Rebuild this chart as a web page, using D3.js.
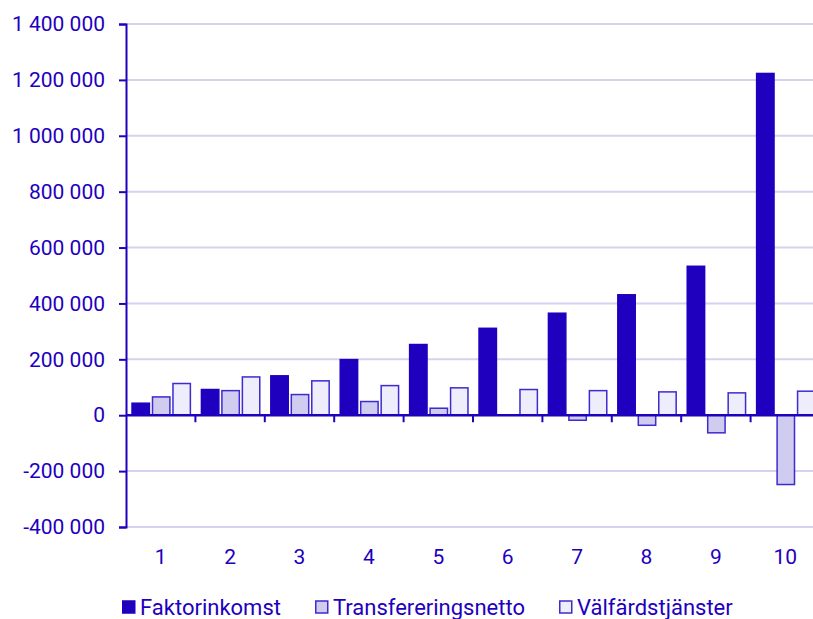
<!DOCTYPE html>
<html>
<head>
<meta charset="utf-8">
<script src="https://cdn.jsdelivr.net/npm/d3@7"></script>
<style>
  body { margin: 0; background: white; }
  text { font-family: Roboto, sans-serif; fill: #1e00be; }
</style>
</head>
<body>
<svg id="chart"></svg>
<script>
// Deciles and the three series (SEK)
var deciles = ["1", "2", "3", "4", "5", "6", "7", "8", "9", "10"]
var series = ["Faktorinkomst", "Transfereringsnetto", "Välfärdstjänster"]
var faktorinkomst = [43000, 92000, 141000, 199000, 253000, 311000, 365000, 431000, 533000, 1223000]
var transfereringsnetto = [65500, 88000, 74000, 49000, 25000, 1000, -18000, -36000, -63000, -248000]
var valfardstjanster = [113500, 137000, 123000, 106000, 98000, 92000, 88000, 83500, 80000, 86000]
var yTicks = [-400000, -200000, 0, 200000, 400000, 600000, 800000, 1000000, 1200000, 1400000]

var data = deciles.map((d, i) => ({
    decile: d,
    values: [faktorinkomst[i], transfereringsnetto[i], valfardstjanster[i]]
}))

var dimensions = {
    width: 813,
    height: 619,
    margin: { top: 24, left: 126, right: -7, bottom: 92 }
}

var svg = d3.select("#chart")
    .attr("width", dimensions.width)
    .attr("height", dimensions.height)

var fmt = d3.formatLocale({ decimal: ",", thousands: " ", grouping: [3], currency: ["", ""], minus: "-" }).format(",d")

var yScale = d3.scaleLinear()
    .domain([-400000, 1400000])
    .range([dimensions.height - dimensions.margin.bottom, dimensions.margin.top])

var x0 = d3.scaleBand()
    .domain(deciles)
    .range([dimensions.margin.left, dimensions.width - dimensions.margin.right])

var x1 = d3.scaleBand()
    .domain(series)
    .range([0, x0.bandwidth()])
    .paddingInner(0.15)
    .paddingOuter(0.27)

var fills = ["#1e00be", "#d0ccf0", "#ededfc"]
var strokes = ["#1e00be", "#3d2bd0", "#3d2bd0"]

// gridlines
svg.append("g")
    .selectAll("line")
    .data(yTicks.filter(d => d != 0))
    .enter()
    .append("line")
    .attr("x1", dimensions.margin.left)
    .attr("x2", dimensions.width)
    .attr("y1", d => yScale(d))
    .attr("y2", d => yScale(d))
    .attr("stroke", "#d4d2ef")
    .attr("stroke-width", 2)

// bars
var groups = svg.append("g")
    .selectAll("g")
    .data(data)
    .enter()
    .append("g")
    .attr("transform", d => `translate(${x0(d.decile) + 0.5},0)`)

groups.selectAll("rect")
    .data(d => d.values.map((v, i) => ({ key: series[i], value: v, i: i })))
    .enter()
    .append("rect")
    .attr("x", d => x1(d.key))
    .attr("width", x1.bandwidth())
    .attr("y", d => yScale(Math.max(0, d.value)))
    .attr("height", d => Math.abs(yScale(d.value) - yScale(0)))
    .attr("fill", d => fills[d.i])
    .attr("stroke", d => strokes[d.i])
    .attr("stroke-width", 1.5)

// y axis
var yAxis = svg.append("g")
    .attr("transform", `translate(${dimensions.margin.left},0)`)
    .call(d3.axisLeft(yScale).tickValues(yTicks).tickFormat(fmt).tickSize(7).tickPadding(14))
yAxis.selectAll("line").attr("stroke", "#1e00be").attr("stroke-width", 2)
yAxis.select(".domain").attr("stroke", "#1e00be").attr("stroke-width", 2)
yAxis.selectAll("text").style("font-size", "21px").style("fill", "#1e00be")

// zero line with group ticks
var zeroY = yScale(0)
svg.append("line")
    .attr("x1", dimensions.margin.left)
    .attr("x2", dimensions.width)
    .attr("y1", zeroY)
    .attr("y2", zeroY)
    .attr("stroke", "#1e00be")
    .attr("stroke-width", 2.5)

svg.append("g")
    .selectAll("line")
    .data(deciles.slice(1))
    .enter()
    .append("line")
    .attr("x1", d => x0(d))
    .attr("x2", d => x0(d))
    .attr("y1", zeroY)
    .attr("y2", zeroY + 7)
    .attr("stroke", "#1e00be")
    .attr("stroke-width", 2)

// category labels
svg.append("g")
    .selectAll("text")
    .data(deciles)
    .enter()
    .append("text")
    .attr("x", d => x0(d) + x0.bandwidth() / 2)
    .attr("y", 564)
    .attr("text-anchor", "middle")
    .style("font-size", "21px")
    .text(d => d)

// legend
var legendX = [122, 315, 559]
var legend = svg.append("g")
    .selectAll("g")
    .data(series)
    .enter()
    .append("g")
    .attr("transform", (d, i) => `translate(${legendX[i]},0)`)

legend.append("rect")
    .attr("x", 0.75)
    .attr("y", 601)
    .attr("width", 12)
    .attr("height", 12)
    .attr("fill", (d, i) => fills[i])
    .attr("stroke", (d, i) => strokes[i])
    .attr("stroke-width", 1.5)

legend.append("text")
    .attr("x", 18)
    .attr("y", 615)
    .style("font-size", "22px")
    .text(d => d)
</script>
</body>
</html>
